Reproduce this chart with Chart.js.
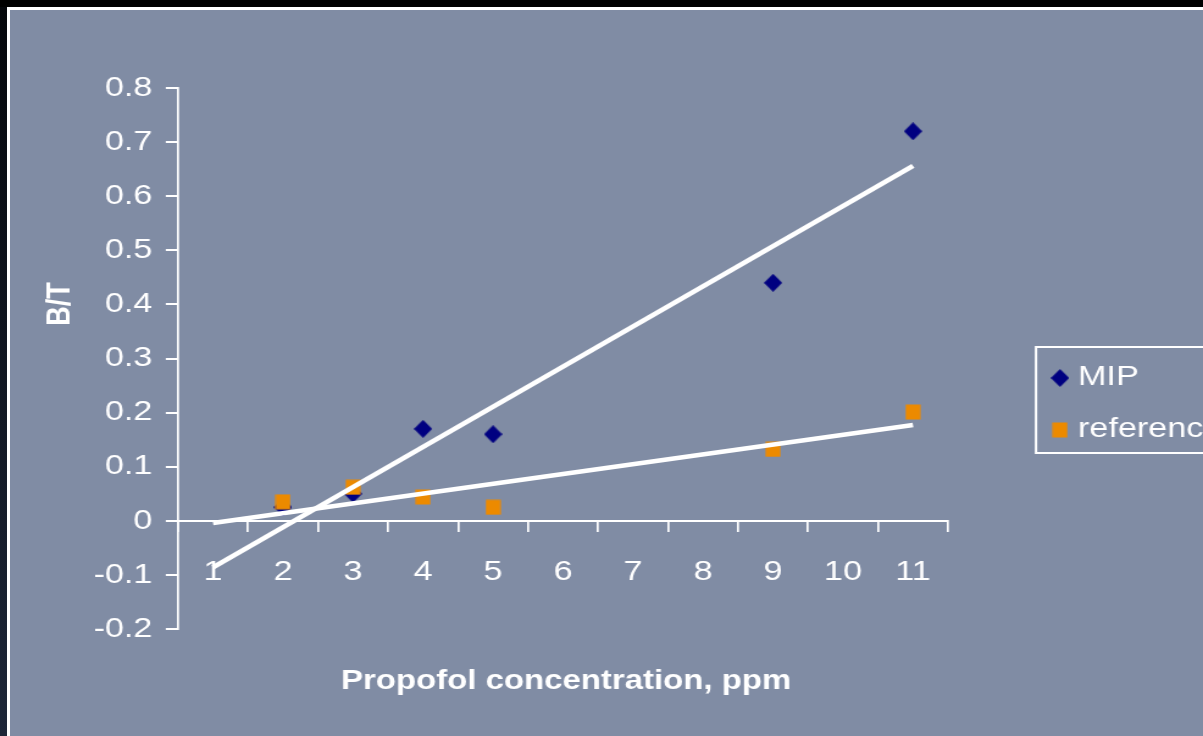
<!DOCTYPE html>
<html>
<head>
<meta charset="utf-8">
<script src="https://cdn.jsdelivr.net/npm/chart.js@4/dist/chart.umd.min.js"></script>
<style>
  body { margin: 0; background: #000; width: 1203px; height: 736px; overflow: hidden; position: relative; }
  #edge { position: absolute; left: 0; top: 7px; width: 7px; height: 729px; background: linear-gradient(#05070b, #1d2638); }
  #panel { position: absolute; left: 7px; top: 7px; right: 0; bottom: 0; border-top: 3px solid #fff; border-left: 3px solid #fff; background: #808ca4; }
  /* the lettering in the picture is stretched sideways, so the whole canvas is drawn narrow and widened */
  #wrap { position: absolute; left: 0; top: 0; width: 986px; height: 736px; transform: scaleX(1.2201); transform-origin: 0 0; }
</style>
</head>
<body>
<div id="edge"></div>
<div id="panel"></div>
<div id="wrap"><canvas id="chart"></canvas></div>
<script>
const SX = 1203 / 986;

const categories = ['1', '2', '3', '4', '5', '6', '7', '8', '9', '10', '11'];
const mipX = ['2', '3', '4', '5', '9', '11'];
const mipY = [0.025, 0.05, 0.17, 0.16, 0.44, 0.72];
const refX = ['2', '3', '4', '5', '9', '11'];
const refY = [0.035, 0.062, 0.044, 0.025, 0.132, 0.201];
const trendX = ['1', '11'];
const mipTrend = [-0.086, 0.656];
const refTrend = [-0.004, 0.177];
const xTitle = 'Propofol concentration, ppm';
const yTitle = 'B/T';

const FONT = '"Liberation Sans", Arial, sans-serif';

// marker bitmaps are drawn narrow so they come out square after the stretch
function marker(shape, color, size) {
  const c = document.createElement('canvas');
  c.width = Math.round(size / SX);
  c.height = size;
  const g = c.getContext('2d');
  g.scale(c.width / size, 1);
  g.fillStyle = color;
  if (shape == 'diamond') {
    g.beginPath();
    g.moveTo(size / 2, 0);
    g.lineTo(size, size / 2);
    g.lineTo(size / 2, size);
    g.lineTo(0, size / 2);
    g.closePath();
    g.fill();
  } else {
    g.fillRect(0.5, 0.5, size - 1, size - 1);
  }
  return c;
}
const diamond = marker('diamond', '#000080', 18);
const square = marker('square', '#ec8a00', 16);

function pts(xs, ys) {
  return xs.map((x, i) => ({x: x, y: ys[i]}));
}

const titlesAndLegend = {
  id: 'titlesAndLegend',
  afterDraw(chart) {
    const ctx = chart.ctx;
    ctx.save();
    ctx.fillStyle = '#fff';
    ctx.textBaseline = 'middle';
    ctx.font = 'bold 27px ' + FONT;
    ctx.textAlign = 'center';
    ctx.fillText(xTitle, 566 / SX, 682);
    ctx.save();
    ctx.translate(60 / SX, 304);
    ctx.rotate(-Math.PI / 2);
    ctx.fillText(yTitle, 0, 0);
    ctx.restore();

    // legend box, running off the right edge like the original
    ctx.strokeStyle = '#fff';
    ctx.lineWidth = 2;
    ctx.strokeRect(1036 / SX, 347, 250, 106);
    ctx.font = '28px ' + FONT;
    ctx.textAlign = 'left';
    const rows = chart.data.datasets.filter(d => d.inLegend);
    rows.sort((a, b) => a.legendRow - b.legendRow);
    rows.forEach((d, i) => {
      const y = 377 + i * 52;
      const img = d.pointStyle;
      ctx.drawImage(img, 1060 / SX - img.width / 2, y + 1 - img.height / 2);
      ctx.fillText(d.label, 1078 / SX, y);
    });
    ctx.restore();
  }
};

new Chart(document.getElementById('chart'), {
  type: 'line',
  data: {
    labels: categories,
    datasets: [
      {
        label: 'MIP trend',
        data: pts(trendX, mipTrend),
        borderColor: '#fff',
        borderWidth: 4.4,
        pointRadius: 0,
        order: 0
      },
      {
        label: 'reference trend',
        data: pts(trendX, refTrend),
        borderColor: '#fff',
        borderWidth: 4.4,
        pointRadius: 0,
        order: 0
      },
      {
        label: 'reference',
        data: pts(refX, refY),
        showLine: false,
        pointStyle: square,
        pointRadius: 8,
        inLegend: true,
        legendRow: 1,
        order: 1
      },
      {
        label: 'MIP',
        data: pts(mipX, mipY),
        showLine: false,
        pointStyle: diamond,
        pointRadius: 8,
        inLegend: true,
        legendRow: 0,
        order: 2
      }
    ]
  },
  options: {
    responsive: true,
    maintainAspectRatio: false,
    animation: false,
    layout: {padding: {left: 0, top: 88, right: 986 - 948 / SX, bottom: 107}},
    plugins: {
      legend: {display: false},
      tooltip: {enabled: false}
    },
    scales: {
      x: {
        type: 'category',
        position: {y: 0},
        offset: true,
        grid: {offset: true, drawOnChartArea: false, drawTicks: true, tickLength: 10, color: '#fff', lineWidth: 1.7},
        border: {display: true, color: '#fff', width: 2},
        ticks: {color: '#fff', font: {family: FONT, size: 28}, padding: 25, maxRotation: 0, autoSkip: false}
      },
      y: {
        min: -0.2,
        max: 0.8,
        grid: {drawOnChartArea: false, drawTicks: true, tickLength: 10, color: '#fff', lineWidth: 2},
        border: {display: true, color: '#fff', width: 1.7},
        ticks: {
          stepSize: 0.1,
          color: '#fff',
          font: {family: FONT, size: 28},
          padding: 11,
          callback: v => String(+v.toFixed(1))
        },
        afterFit: scale => { scale.width = 178 / SX; }
      }
    }
  },
  plugins: [titlesAndLegend]
});
</script>
</body>
</html>
